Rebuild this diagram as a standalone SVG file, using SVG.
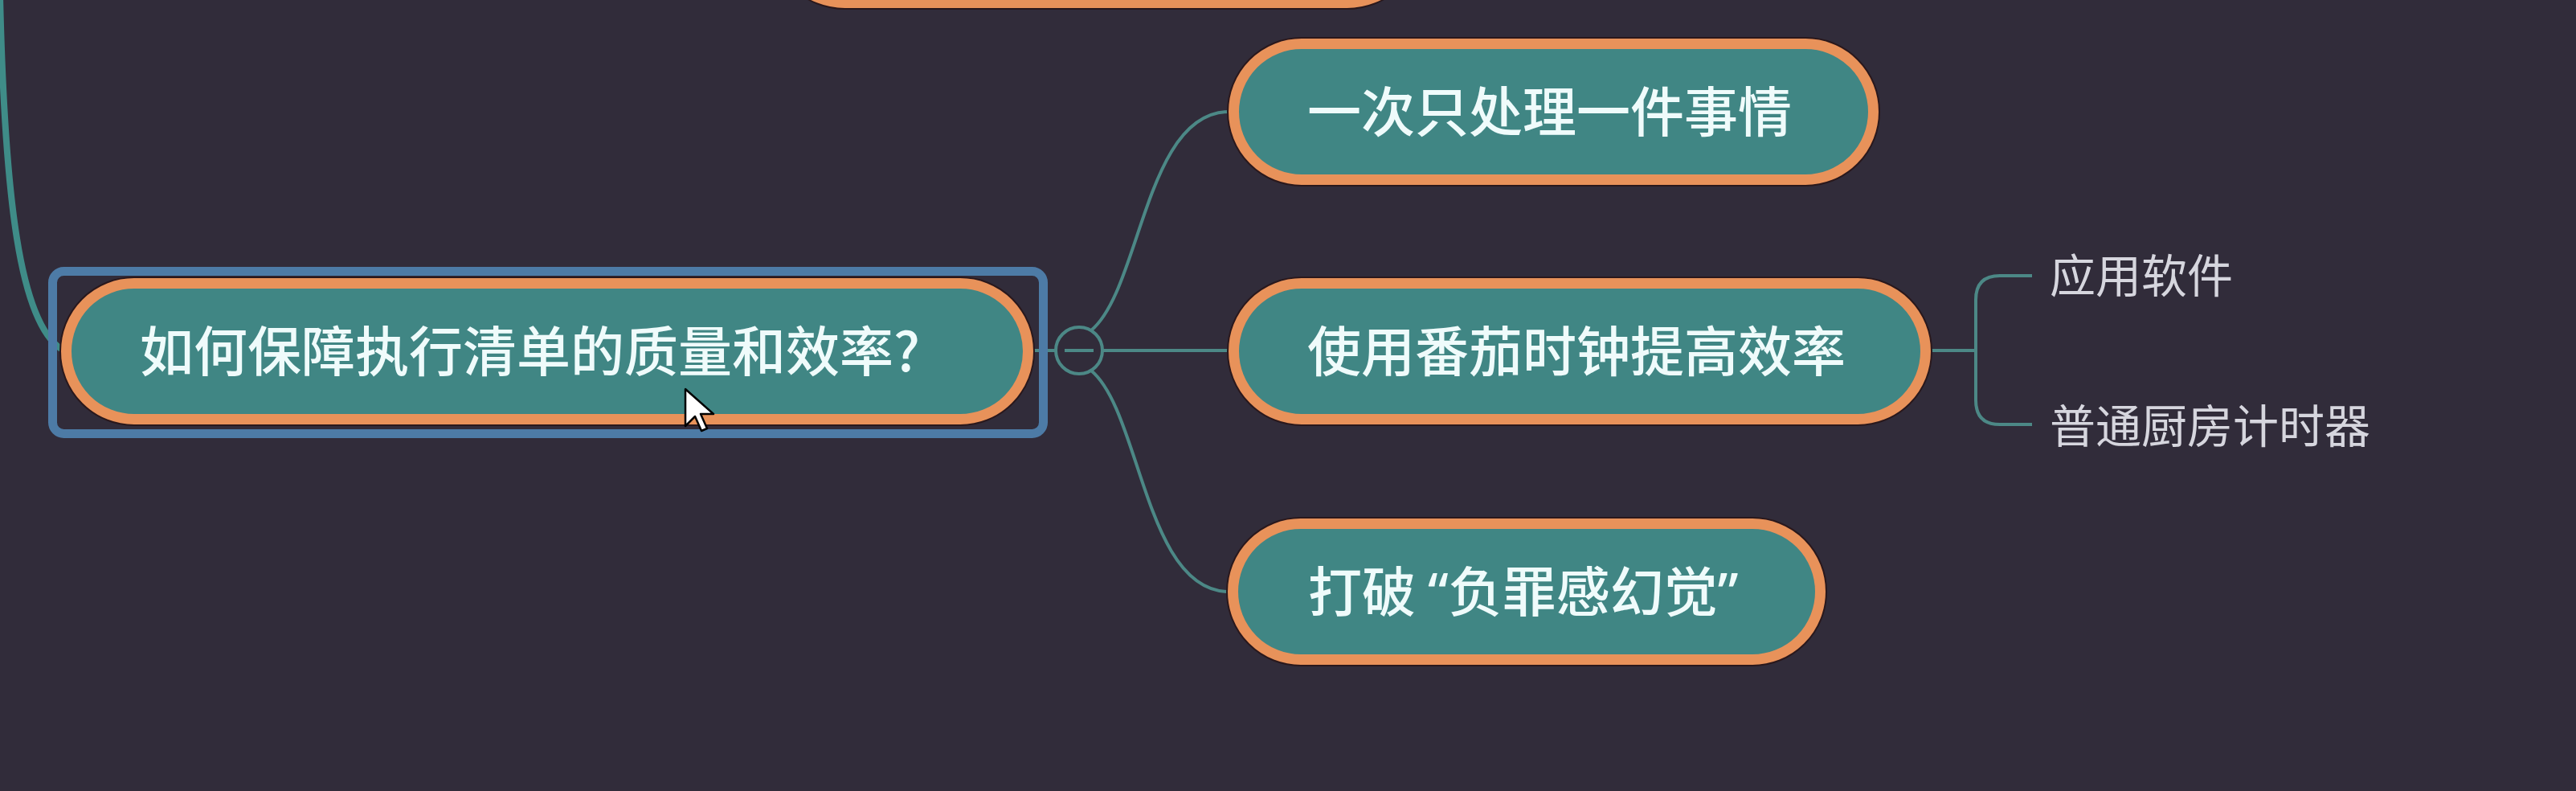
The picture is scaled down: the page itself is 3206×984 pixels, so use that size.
<svg xmlns="http://www.w3.org/2000/svg" width="3206" height="984" viewBox="0 0 3206 984">
<style>
.pill{fill:#408684;stroke:#e8925a;stroke-width:13}
.shade{fill:none;stroke:#2a181c;stroke-width:4}
.t{font-family:"Noto Sans CJK SC","Noto Sans",sans-serif;font-size:67px;fill:#effbfb;font-weight:500}
.q{font-family:"Noto Sans","Noto Sans CJK SC",sans-serif}
.s{font-family:"Noto Sans CJK SC","Noto Sans",sans-serif;font-size:57px;fill:#d6d6de}
.c{fill:none;stroke:#4c8886;stroke-width:4}
</style>
<rect width="3206" height="984" fill="#312c3a"/>
<g id="connectors">
<path d="M0,-5 C6,250 25,400 76,434" fill="none" stroke="#3f8c88" stroke-width="8"/>
<path class="c" d="M1286,436 H1314"/>
<circle class="c" cx="1343" cy="436" r="29"/>
<path class="c" d="M1325,436 H1361"/>
<path class="c" d="M1372,436 H1529"/>
<path class="c" d="M1358,411 C1420,360 1425,139 1530,139"/>
<path class="c" d="M1358,461 C1420,512 1425,736 1530,736"/>
<path class="c" d="M2403,436 H2459 M2529,343 H2489 Q2459,343 2459,373 V498 Q2459,528 2489,528 H2529"/>
</g>
<g id="node-top">
<rect class="shade" x="957" y="-180" width="814" height="190" rx="95"/>
<rect class="pill" x="963.5" y="-173.5" width="801" height="177" rx="88"/>
</g>
<g id="node-main">
<rect x="65.5" y="337.5" width="1233" height="202" rx="14" fill="none" stroke="#4d7ba6" stroke-width="11"/>
<rect class="shade" x="76" y="346" width="1210" height="182" rx="91"/>
<rect class="pill" x="82.5" y="352.5" width="1197" height="169" rx="84.5"/>
<text class="t" x="174" y="462">如何保障执行清单的质量和效率?</text>
</g>
<g id="node-1">
<rect class="shade" x="1529" y="48" width="809" height="182" rx="91"/>
<rect class="pill" x="1535.5" y="54.5" width="796" height="169" rx="84.5"/>
<text class="t" x="1627" y="164">一次只处理一件事情</text>
</g>
<g id="node-2">
<rect class="shade" x="1529" y="346" width="874" height="182" rx="91"/>
<rect class="pill" x="1535.5" y="352.5" width="861" height="169" rx="84.5"/>
<text class="t" x="1627" y="462">使用番茄时钟提高效率</text>
</g>
<g id="node-3">
<rect class="shade" x="1528" y="645" width="744" height="182" rx="91"/>
<rect class="pill" x="1534.5" y="651.5" width="731" height="169" rx="84.5"/>
<text class="t" x="1628" y="761">打破 <tspan class="q">“</tspan>负罪感幻觉<tspan class="q">”</tspan></text>
</g>
<g id="sub-1">
<text class="s" x="2551" y="364">应用软件</text>
</g>
<g id="sub-2">
<text class="s" x="2551" y="551">普通厨房计时器</text>
</g>
<g id="cursor">
<path d="M853,484 V530 L865,518 L873,536 L880,533 L872,515 L888,515 Z" fill="#ffffff" stroke="#000000" stroke-width="2.5" stroke-linejoin="round"/>
</g>
</svg>
